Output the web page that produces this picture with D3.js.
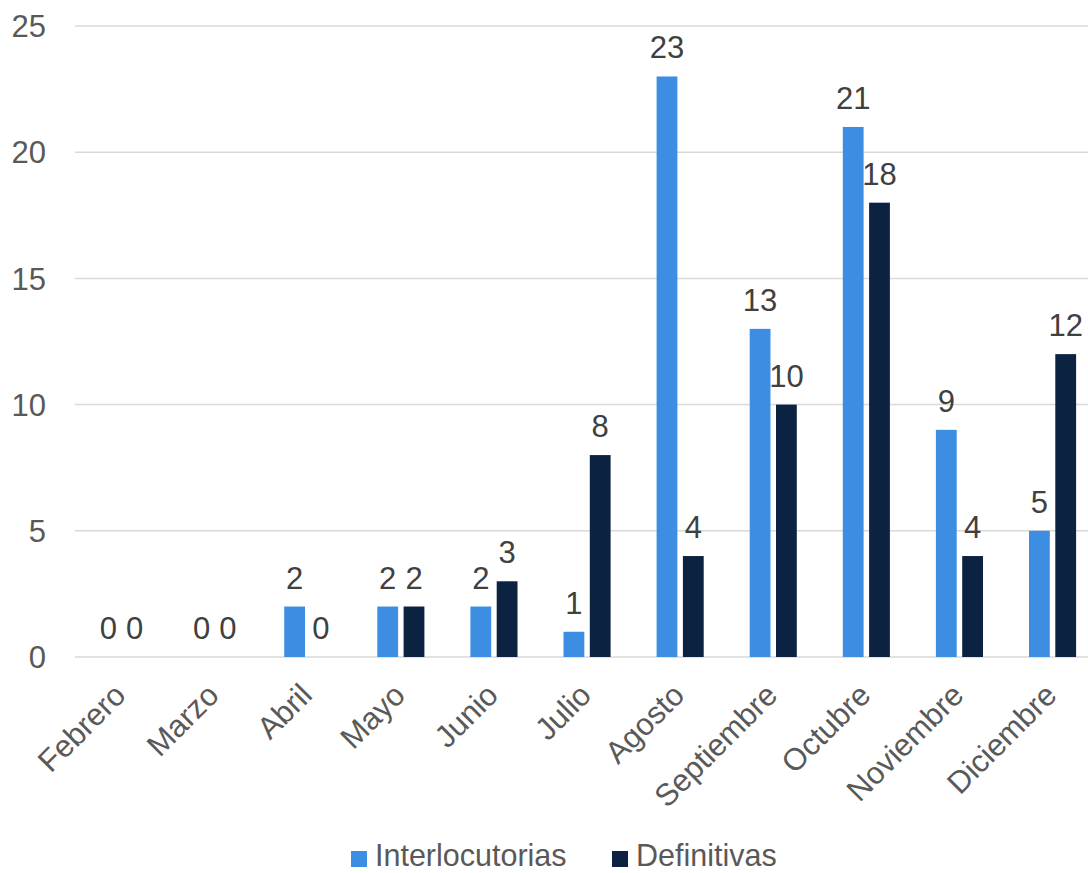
<!DOCTYPE html>
<html><head><meta charset="utf-8">
<script src="https://cdn.jsdelivr.net/npm/d3@7"></script>
<style>
html,body{margin:0;padding:0;background:#fff;}
svg{display:block;}
text{font-family:"Liberation Sans",Arial,sans-serif;}
</style></head>
<body>
<script>
const categories = ["Febrero","Marzo","Abril","Mayo","Junio","Julio","Agosto","Septiembre","Octubre","Noviembre","Diciembre"];
const interlocutorias = [0,0,2,2,2,1,23,13,21,9,5];
const definitivas = [0,0,0,2,3,8,4,10,18,4,12];
const seriesNames = ["Interlocutorias","Definitivas"];
const seriesColors = ["#3d8ee2","#0b2240"];
const yTicks = [0,5,10,15,20,25];

const W = 1088, H = 873;
const svg = d3.select("body").append("svg").attr("width", W).attr("height", H);

const left = 75, step = 93.1;
const x = d3.scaleBand().domain(categories).range([left, left + step*categories.length]).paddingInner(0).paddingOuter(0);
const y = d3.scaleLinear().domain([0,25]).range([657,26]);
const barW = 20.8, gap = 5.5;

// gridlines
svg.append("g").selectAll("line").data(yTicks).join("line")
  .attr("x1", left).attr("x2", W).attr("y1", d=>y(d)).attr("y2", d=>y(d))
  .attr("stroke", "#d9d9d9").attr("stroke-width", 1.5);

// y tick labels
svg.append("g").selectAll("text").data(yTicks).join("text")
  .attr("x", 46).attr("y", d=>y(d)).attr("dy","0.36em")
  .attr("text-anchor","end").attr("font-size",31).attr("fill","#595959")
  .text(d=>d);

const series = [interlocutorias, definitivas];
series.forEach((vals, si) => {
  const off = si === 0 ? -(gap/2 + barW) : gap/2;
  const g = svg.append("g");
  g.selectAll("rect").data(vals).join("rect")
    .attr("x", (d,i)=> x(categories[i]) + x.bandwidth()/2 + off)
    .attr("y", d=>y(d)).attr("width", barW).attr("height", d=>y(0)-y(d))
    .attr("fill", seriesColors[si]);
  g.selectAll("text").data(vals).join("text")
    .attr("x", (d,i)=> x(categories[i]) + x.bandwidth()/2 + off + barW/2)
    .attr("y", d=>y(d) - 18)
    .attr("text-anchor","middle").attr("font-size",31).attr("fill","#404040")
    .text(d=>d);
});

// category labels
svg.append("g").selectAll("text").data(categories).join("text")
  .attr("transform", d=>`translate(${x(d)+x.bandwidth()/2+6},${697}) rotate(-45)`)
  .attr("text-anchor","end").attr("font-size",31).attr("fill","#595959")
  .text(d=>d);

// legend
const leg = svg.append("g");
const legItems = [{n:seriesNames[0], c:seriesColors[0], x:351},{n:seriesNames[1], c:seriesColors[1], x:612}];
legItems.forEach(it=>{
  leg.append("rect").attr("x", it.x).attr("y", 851).attr("width",16).attr("height",16).attr("fill", it.c);
  leg.append("text").attr("x", it.x+24).attr("y", 866).attr("font-size",30.5).attr("fill","#595959").text(it.n);
});
</script>
</body></html>
